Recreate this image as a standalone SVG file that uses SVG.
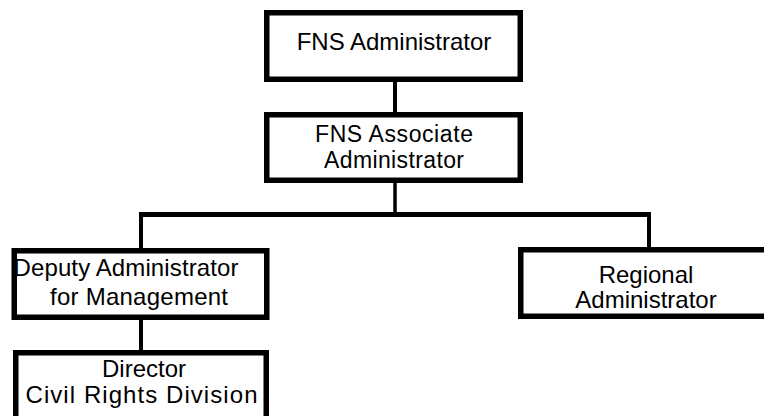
<svg xmlns="http://www.w3.org/2000/svg" width="764" height="416" viewBox="0 0 764 416">
<style>
.box{fill:#fff;stroke:#000;stroke-width:5.5}
.c{stroke:#000;fill:none;stroke-linecap:butt}
text{font-family:"Liberation Sans",Arial,sans-serif;font-size:24px;fill:#000;text-anchor:middle}
.s{font-size:23px}
</style>
<rect width="764" height="416" fill="#fff"/>
<g id="connectors">
<line class="c" x1="395" y1="81" x2="395" y2="113" stroke-width="4"/>
<line class="c" x1="395" y1="182" x2="395" y2="213" stroke-width="3.5"/>
<line class="c" x1="139" y1="214.5" x2="651" y2="214.5" stroke-width="5"/>
<line class="c" x1="141" y1="216" x2="141" y2="249" stroke-width="4"/>
<line class="c" x1="649" y1="216" x2="649" y2="248" stroke-width="4"/>
<line class="c" x1="141" y1="319" x2="141" y2="351" stroke-width="4"/>
</g>
<g id="fns-administrator">
<rect class="box" x="266.75" y="12.75" width="253.5" height="66.5"/>
<text x="394" y="50">FNS Administrator</text>
</g>
<g id="fns-associate-administrator">
<rect class="box" x="266.75" y="114.75" width="253.5" height="65.5"/>
<text class="s" x="394" y="141.5" textLength="158" lengthAdjust="spacing">FNS Associate</text>
<text class="s" x="394" y="168" textLength="140" lengthAdjust="spacing">Administrator</text>
</g>
<g id="deputy-administrator">
<rect class="box" x="14.25" y="250.75" width="252.5" height="66.5"/>
<text x="126" y="276" textLength="225" lengthAdjust="spacing">Deputy Administrator</text>
<text x="139" y="305" textLength="178" lengthAdjust="spacing">for Management</text>
</g>
<g id="director-civil-rights">
<rect class="box" x="15.75" y="352.75" width="250.5" height="100"/>
<text x="144" y="377">Director</text>
<text x="141.5" y="403" textLength="232" lengthAdjust="spacing">Civil Rights Division</text>
</g>
<g id="regional-administrator">
<rect class="box" x="520.75" y="249.75" width="251" height="66.5"/>
<text x="646" y="283">Regional</text>
<text x="646" y="308">Administrator</text>
</g>
</svg>
